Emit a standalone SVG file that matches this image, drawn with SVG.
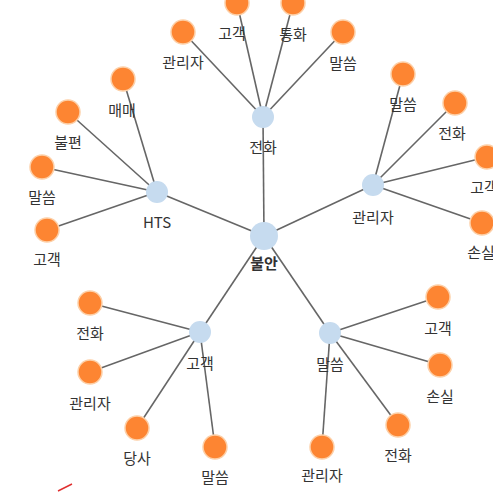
<svg xmlns="http://www.w3.org/2000/svg" width="493" height="492" viewBox="0 0 493 492">
  <style>
    .link { stroke: #666; stroke-width: 1.6; fill: none; }
    .leaf { fill: #fd8532; stroke: #fdd0a8; stroke-width: 1.5; }
    .hub { fill: #c6dbef; }
    .root { fill: #c6dbef; }
    text { font-family: "Noto Sans CJK KR", "Noto Sans", sans-serif; font-size: 15px; fill: #333; text-anchor: middle; dominant-baseline: central; }
    .bold { font-weight: bold; }
  </style>
  <rect width="493" height="492" fill="#fff"/>
  <g id="links">
    <line class="link" x1="264" y1="236" x2="263" y2="117"/>
    <line class="link" x1="264" y1="236" x2="157" y2="192"/>
    <line class="link" x1="264" y1="236" x2="373" y2="185"/>
    <line class="link" x1="264" y1="236" x2="200" y2="332"/>
    <line class="link" x1="264" y1="236" x2="330" y2="333"/>
    <line class="link" x1="263" y1="117" x2="183" y2="32"/>
    <line class="link" x1="263" y1="117" x2="237" y2="3"/>
    <line class="link" x1="263" y1="117" x2="293" y2="3"/>
    <line class="link" x1="263" y1="117" x2="343" y2="32"/>
    <line class="link" x1="157" y1="192" x2="123" y2="79"/>
    <line class="link" x1="157" y1="192" x2="68" y2="112"/>
    <line class="link" x1="157" y1="192" x2="42" y2="167"/>
    <line class="link" x1="157" y1="192" x2="47" y2="230"/>
    <line class="link" x1="373" y1="185" x2="403" y2="74"/>
    <line class="link" x1="373" y1="185" x2="455" y2="103"/>
    <line class="link" x1="373" y1="185" x2="487" y2="157"/>
    <line class="link" x1="373" y1="185" x2="482" y2="223"/>
    <line class="link" x1="200" y1="332" x2="90" y2="303"/>
    <line class="link" x1="200" y1="332" x2="90" y2="372"/>
    <line class="link" x1="200" y1="332" x2="137" y2="428"/>
    <line class="link" x1="200" y1="332" x2="215" y2="447"/>
    <line class="link" x1="330" y1="333" x2="438" y2="297"/>
    <line class="link" x1="330" y1="333" x2="440" y2="365"/>
    <line class="link" x1="330" y1="333" x2="398" y2="425"/>
    <line class="link" x1="330" y1="333" x2="322" y2="447"/>
  </g>
  <g id="n-root"><circle class="root" cx="264" cy="236" r="14"/><text class="bold" x="264" y="262">불안</text></g>
  <g id="n-phone"><circle class="hub" cx="263" cy="117" r="11"/><text x="263" y="146">전화</text></g>
  <g id="n-hts"><circle class="hub" cx="157" cy="192" r="11"/><text x="157" y="221">HTS</text></g>
  <g id="n-manager"><circle class="hub" cx="373" cy="185" r="11"/><text x="373" y="216">관리자</text></g>
  <g id="n-customer"><circle class="hub" cx="200" cy="332" r="11"/><text x="200" y="362">고객</text></g>
  <g id="n-words"><circle class="hub" cx="330" cy="333" r="11"/><text x="330" y="363">말씀</text></g>

  <g id="n-phone-manager"><circle class="leaf" cx="183" cy="32" r="12"/><text x="183" y="61">관리자</text></g>
  <g id="n-phone-customer"><circle class="leaf" cx="237" cy="3" r="12"/><text x="232" y="32">고객</text></g>
  <g id="n-phone-call"><circle class="leaf" cx="293" cy="3" r="12"/><text x="293" y="33">통화</text></g>
  <g id="n-phone-words"><circle class="leaf" cx="343" cy="32" r="12"/><text x="343" y="62">말씀</text></g>

  <g id="n-hts-trade"><circle class="leaf" cx="123" cy="79" r="12"/><text x="122" y="109">매매</text></g>
  <g id="n-hts-inconv"><circle class="leaf" cx="68" cy="112" r="12"/><text x="68" y="141">불편</text></g>
  <g id="n-hts-words"><circle class="leaf" cx="42" cy="167" r="12"/><text x="42" y="196">말씀</text></g>
  <g id="n-hts-customer"><circle class="leaf" cx="47" cy="230" r="12"/><text x="47" y="258">고객</text></g>

  <g id="n-mgr-words"><circle class="leaf" cx="403" cy="74" r="12"/><text x="403" y="103">말씀</text></g>
  <g id="n-mgr-phone"><circle class="leaf" cx="455" cy="103" r="12"/><text x="452" y="132">전화</text></g>
  <g id="n-mgr-customer"><circle class="leaf" cx="487" cy="157" r="12"/><text x="484" y="186">고객</text></g>
  <g id="n-mgr-loss"><circle class="leaf" cx="482" cy="223" r="12"/><text x="481" y="251">손실</text></g>

  <g id="n-cus-phone"><circle class="leaf" cx="90" cy="303" r="12"/><text x="90" y="332">전화</text></g>
  <g id="n-cus-manager"><circle class="leaf" cx="90" cy="372" r="12"/><text x="90" y="402">관리자</text></g>
  <g id="n-cus-company"><circle class="leaf" cx="137" cy="428" r="12"/><text x="137" y="457">당사</text></g>
  <g id="n-cus-words"><circle class="leaf" cx="215" cy="447" r="12"/><text x="215" y="476">말씀</text></g>

  <g id="n-w-customer"><circle class="leaf" cx="438" cy="297" r="12"/><text x="438" y="327">고객</text></g>
  <g id="n-w-loss"><circle class="leaf" cx="440" cy="365" r="12"/><text x="440" y="395">손실</text></g>
  <g id="n-w-phone"><circle class="leaf" cx="398" cy="425" r="12"/><text x="398" y="454">전화</text></g>
  <g id="n-w-manager"><circle class="leaf" cx="322" cy="447" r="12"/><text x="322" y="474">관리자</text></g>

  <line x1="58" y1="491" x2="72" y2="484" stroke="#e03030" stroke-width="1.5"/>
</svg>
